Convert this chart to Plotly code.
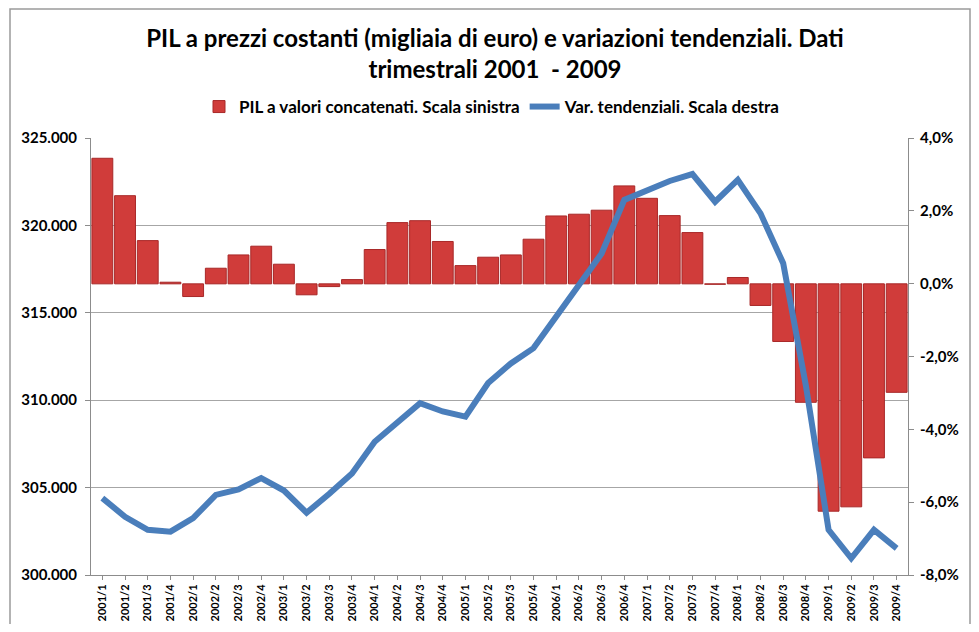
import plotly.graph_objects as go

quarters = ["2001/1","2001/2","2001/3","2001/4","2002/1","2002/2","2002/3","2002/4",
            "2003/1","2003/2","2003/3","2003/4","2004/1","2004/2","2004/3","2004/4",
            "2005/1","2005/2","2005/3","2005/4","2006/1","2006/2","2006/3","2006/4",
            "2007/1","2007/2","2007/3","2007/4","2008/1","2008/2","2008/3","2008/4",
            "2009/1","2009/2","2009/3","2009/4"]

pil = [323840, 321700, 319130, 316750, 315930, 317550, 318310, 318810,
       317780, 316030, 316500, 316900, 318620, 320160, 320270, 319080,
       317700, 318180, 318310, 319210, 320540, 320640, 320870, 322260,
       321550, 320560, 319590, 316630, 317020, 315420, 313360, 309880,
       303650, 303900, 306700, 310450]

var_tend = [-5.89, -6.40, -6.76, -6.81, -6.44, -5.80, -5.65, -5.34,
            -5.68, -6.29, -5.77, -5.21, -4.34, -3.83, -3.28, -3.51,
            -3.65, -2.73, -2.19, -1.77, -0.91, -0.04, 0.83, 2.30,
            2.54, 2.82, 3.01, 2.25, 2.85, 1.93, 0.56, -2.80,
            -6.76, -7.54, -6.76, -7.27]

bar_base = 316657  # where the bars originate (aligned with 0% of right axis)

left_ticks = [300000, 305000, 310000, 315000, 320000, 325000]
right_ticks = [-8, -6, -4, -2, 0, 2, 4]
right_labels = ["-8,0%", "-6,0%", "-4,0%", "-2,0%", "0,0%", "2,0%", "4,0%"]

FONT = "Lato, Liberation Sans, sans-serif"

# the page body has an 8px margin, so the figure is laid out inside it
OFF = 8
W, H = 963, 616
PL, PR, PT, PB = 91 - OFF, 908 - OFF, 138 - OFF, 575 - OFF   # plot area, figure px
PW, PH = PR - PL, PB - PT

def px_x(px):
    return (px - OFF - PL) / PW

def px_y(py):
    return (PB - (py - OFF)) / PH

fig = go.Figure()
fig.add_trace(go.Bar(
    x=quarters, y=[v - bar_base for v in pil], base=bar_base,
    name="PIL a valori concatenati. Scala sinistra",
    marker=dict(color="#d03c3a", line=dict(color="#a82828", width=1)),
    yaxis="y",
))
fig.add_trace(go.Scatter(
    x=quarters, y=var_tend, mode="lines",
    name="Var. tendenziali. Scala destra",
    line=dict(color="#4a7ebb", width=6),
    yaxis="y2",
))

tickfont = dict(family=FONT, size=15, color="#000000", weight="bold")

fig.update_layout(
    width=W, height=H,
    margin=dict(l=PL, r=W - PR, t=PT, b=H - PB, autoexpand=False),
    paper_bgcolor="white", plot_bgcolor="white",
    separators=",.",
    font=dict(family=FONT, color="#000000"),
    title=dict(
        text="PIL a prezzi costanti (migliaia di euro) e variazioni tendenziali. Dati<br>trimestrali 2001  - 2009",
        x=(495 - OFF) / W, xanchor="center", y=1 - (47 - OFF) / H, yanchor="middle",
        font=dict(family=FONT, size=24, color="#000000", weight="bold"),
    ),
    showlegend=True,
    legend=dict(orientation="h", x=px_x(492), xanchor="center", y=px_y(107),
                yanchor="middle", font=dict(family=FONT, size=17, weight="bold"),
                bgcolor="rgba(0,0,0,0)", itemwidth=30, tracegroupgap=0),
    bargap=0.08,
    xaxis=dict(
        type="category", tickangle=-90, showgrid=False,
        showline=True, linecolor="#8c8c8c", linewidth=1,
        ticks="outside", ticklen=4, tickcolor="#8c8c8c",
        tickfont=dict(family=FONT, size=11, color="#000000", weight="bold"),
        range=[-0.5, 35.5], automargin=False,
    ),
    yaxis=dict(
        range=[300000, 325000], tickvals=left_ticks, tickformat=",.0f",
        showgrid=True, gridcolor="#a6a6a6", gridwidth=1,
        showline=True, linecolor="#8c8c8c", linewidth=1,
        ticks="outside", ticklen=5, tickcolor="#8c8c8c", ticklabelstandoff=5,
        tickfont=tickfont, zeroline=False, automargin=False,
    ),
    yaxis2=dict(
        range=[-8, 4], tickvals=right_ticks, ticktext=right_labels,
        overlaying="y", side="right", showgrid=False,
        showline=True, linecolor="#8c8c8c", linewidth=1,
        ticks="outside", ticklen=5, tickcolor="#8c8c8c", ticklabelstandoff=3,
        tickfont=tickfont, zeroline=False, automargin=False,
    ),
)

# outer chart border
fig.add_shape(type="rect", xref="paper", yref="paper",
              x0=px_x(10), x1=px_x(970), y0=px_y(700), y1=px_y(9),
              line=dict(color="#9a9a9a", width=1.5), fillcolor="rgba(0,0,0,0)", layer="below")

fig.write_html("out.html")
